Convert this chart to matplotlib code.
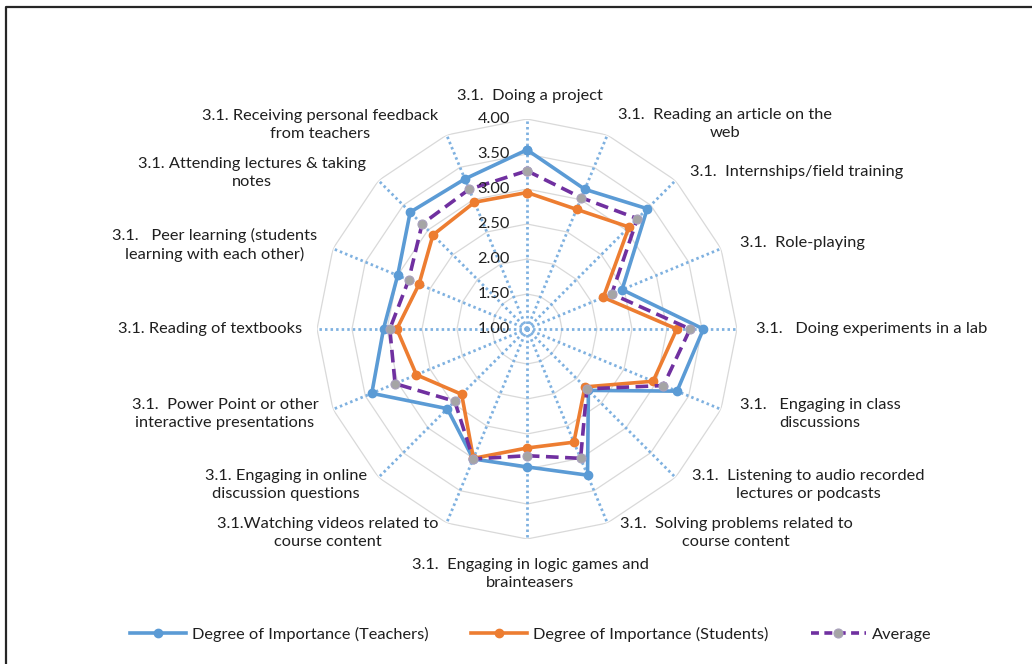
import numpy as np
import matplotlib
matplotlib.use("Agg")
import matplotlib.pyplot as plt
from matplotlib.lines import Line2D
import matplotlib.transforms as mtransforms

categories = [
    "3.1.  Doing a project",
    "3.1.  Reading an article on the\nweb",
    "3.1.  Internships/field training",
    "3.1.  Role-playing",
    "3.1.   Doing experiments in a lab",
    "3.1.   Engaging in class\ndiscussions",
    "3.1.  Listening to audio recorded\nlectures or podcasts",
    "3.1.  Solving problems related to\ncourse content",
    "3.1.  Engaging in logic games and\nbrainteasers",
    "3.1.Watching videos related to\ncourse content",
    "3.1. Engaging in online\ndiscussion questions",
    "3.1.  Power Point or other\ninteractive presentations",
    "3.1. Reading of textbooks",
    "3.1.   Peer learning (students\nlearning with each other)",
    "3.1. Attending lectures & taking\nnotes",
    "3.1. Receiving personal feedback\nfrom teachers",
]

teachers = [3.56, 3.16, 3.43, 2.47, 3.52, 3.32, 2.24, 3.26,
            2.97, 3.01, 2.61, 3.40, 3.05, 3.00, 3.36, 3.32]
students = [2.95, 2.85, 3.06, 2.18, 3.14, 2.95, 2.17, 2.75,
            2.70, 3.00, 2.32, 2.71, 2.86, 2.67, 2.90, 2.96]
average = [3.26, 3.03, 3.23, 2.31, 3.33, 3.11, 2.21, 3.00,
           2.81, 3.01, 2.46, 3.04, 2.96, 2.83, 3.12, 3.16]

series_names = ["Degree of Importance (Teachers)",
                "Degree of Importance (Students)",
                "Average"]
r_ticks = [1.00, 1.50, 2.00, 2.50, 3.00, 3.50, 4.00]

# label centres in pixels (x, y from top) -- layout only
label_pos = [(530, 96), (725, 124), (797, 172), (802, 243), (872, 329),
             (820, 414), (808, 485), (736, 533), (530, 574), (328, 533),
             (286, 485), (225, 414), (210, 329), (215, 245), (252, 173),
             (320, 125)]

W, H = 1032, 664
FONT = "Lato"
FS = 11.8
TXT = "#1f1f1f"
BLUE = "#5B9BD5"
ORANGE = "#ED7D31"
PURPLE = "#7030A0"

fig = plt.figure(figsize=(W / 100, H / 100), dpi=100)
cx, cy, R = 527, 329, 210
ax = fig.add_axes([(cx - R) / W, (H - cy - R) / H, 2 * R / W, 2 * R / H],
                  projection="polar")
ax.set_theta_zero_location("N")
ax.set_theta_direction(-1)
ax.set_ylim(1, 4)
ax.grid(False)
ax.set_xticks([])
ax.set_yticks([])
ax.spines["polar"].set_visible(False)
ax.patch.set_alpha(0)

n = len(categories)
theta = np.arange(n) * 2 * np.pi / n
theta_c = np.append(theta, theta[0])

# polygon gridlines
for lv in r_ticks[1:]:
    ax.plot(theta_c, [lv] * (n + 1), color="#D9D9D9", lw=0.9, zorder=1)
# dotted radial axes
for t in theta:
    ax.plot([t, t], [1, 4.04], color="#7FB1E0", lw=2.0,
            linestyle=(0, (0.9, 1.1)), zorder=1.5)

def closed(v):
    return list(v) + [v[0]]

ax.plot(theta_c, closed(teachers), color=BLUE, lw=2.6, marker="o",
        markersize=6, zorder=3, label=series_names[0])
ax.plot(theta_c, closed(students), color=ORANGE, lw=2.6, marker="o",
        markersize=6, zorder=3.2, label=series_names[1])
ax.plot(theta_c, closed(average), color=PURPLE, lw=2.6,
        linestyle=(0, (3.5, 1.8)), marker="o", markersize=6.5,
        markerfacecolor="#A5A5A5", markeredgecolor="#A9A0BC",
        markeredgewidth=0.8, zorder=3.5, label=series_names[2])

# radial tick labels
off = mtransforms.offset_copy(ax.transData, fig=fig, x=-17, y=0, units="dots")
for lv in r_ticks:
    ax.text(0, lv, f"{lv:.2f}", transform=off, ha="right", va="center",
            fontsize=FS, family=FONT, color=TXT, zorder=5)

# category labels
for lab, (px, py) in zip(categories, label_pos):
    fig.text(px / W, 1 - py / H, lab, ha="center", va="center",
             fontsize=FS, family=FONT, color=TXT, linespacing=1.3,
             multialignment="center")

# legend
handles = [
    Line2D([], [], color=BLUE, lw=2.6, marker="o", markersize=6),
    Line2D([], [], color=ORANGE, lw=2.6, marker="o", markersize=6),
    Line2D([], [], color=PURPLE, lw=2.6, linestyle=(0, (2.2, 1.5)),
           marker="o", markersize=6.5, markerfacecolor="#A5A5A5",
           markeredgecolor="#A9A0BC", markeredgewidth=0.8),
]
fig.legend(handles, series_names, loc="center", ncol=3,
           bbox_to_anchor=(531 / W, 1 - 634 / H), frameon=False,
           prop={"family": FONT, "size": FS}, handlelength=3.4,
           handletextpad=0.35, columnspacing=2.6, numpoints=1,
           labelcolor=TXT)

# chart border (top and left visible)
fig.add_artist(Line2D([6 / W, 6 / W, 1.0], [0.0, 1 - 7 / H, 1 - 7 / H],
                      transform=fig.transFigure, color="#262626", lw=1.6))

fig.savefig("out.png", dpi=100)
